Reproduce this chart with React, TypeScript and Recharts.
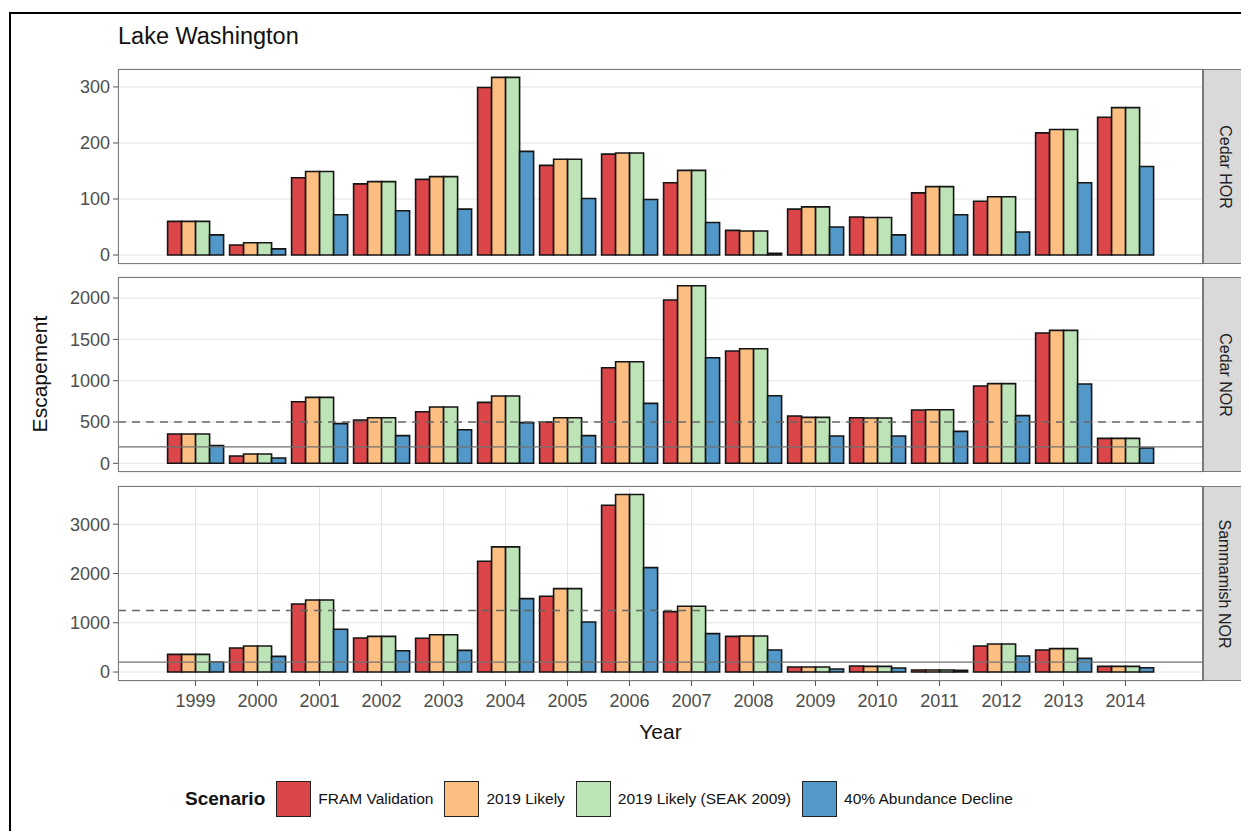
import React from 'react';
import { BarChart, Bar, XAxis, YAxis, CartesianGrid, ReferenceLine } from 'recharts';

const years = ['1999', '2000', '2001', '2002', '2003', '2004', '2005', '2006', '2007', '2008', '2009', '2010', '2011', '2012', '2013', '2014'];

const scenarios = ['FRAM Validation', '2019 Likely', '2019 Likely (SEAK 2009)', '40% Abundance Decline'];
const scenarioColors = ['#DC4649', '#FDBE81', '#BCE4B6', '#5298C8'];

// Cedar HOR
const cedarHorFram = [60, 18, 138, 127, 135, 299, 160, 180, 129, 44, 82, 68, 111, 96, 218, 246];
const cedarHorLikely = [60, 22, 149, 131, 140, 317, 171, 182, 151, 43, 86, 67, 122, 104, 224, 263];
const cedarHorSeak = [60, 22, 149, 131, 140, 317, 171, 182, 151, 43, 86, 67, 122, 104, 224, 263];
const cedarHorDecline = [36, 11, 72, 79, 82, 185, 101, 99, 58, 3, 50, 36, 72, 41, 129, 158];

// Cedar NOR
const cedarNorFram = [355, 89, 746, 524, 625, 738, 500, 1157, 1976, 1359, 573, 552, 645, 935, 1577, 302];
const cedarNorLikely = [355, 113, 798, 552, 681, 815, 552, 1230, 2149, 1387, 556, 548, 649, 964, 1609, 302];
const cedarNorSeak = [355, 113, 798, 552, 681, 815, 552, 1230, 2149, 1387, 556, 548, 649, 964, 1609, 302];
const cedarNorDecline = [214, 65, 480, 335, 407, 492, 335, 726, 1278, 818, 331, 331, 387, 577, 960, 185];

// Sammamish NOR
const sammFram = [359, 487, 1381, 691, 684, 2248, 1537, 3385, 1225, 724, 102, 122, 40, 528, 447, 115];
const sammLikely = [359, 528, 1462, 724, 758, 2539, 1693, 3602, 1334, 731, 102, 115, 40, 569, 474, 115];
const sammSeak = [359, 528, 1462, 724, 758, 2539, 1693, 3602, 1334, 731, 102, 115, 40, 569, 474, 115];
const sammDecline = [203, 318, 867, 433, 440, 1489, 1016, 2119, 779, 447, 61, 81, 34, 325, 278, 88];

const cedarHorTicks = [0, 100, 200, 300];
const cedarHorMinor = [50, 150, 250];
const cedarNorTicks = [0, 500, 1000, 1500, 2000];
const cedarNorMinor = [250, 750, 1250, 1750, 2250];
const sammTicks = [0, 1000, 2000, 3000];
const sammMinor = [500, 1500, 2500, 3500];

const build = (a: number[], b: number[], c: number[], d: number[]) =>
  years.map((year, i) => ({ year, fram: a[i], likely: b[i], seak: c[i], decline: d[i] }));

const keys = ['fram', 'likely', 'seak', 'decline'];
const FONT = '"Liberation Sans", Arial, sans-serif';
const PANEL_LEFT = 118;
const PANEL_RIGHT = 1203;
const PANEL_H = 195;
const X_AXIS_H = 40;
const PAD = 10; // room so edge tick labels are not clipped
const AXIS_TEXT = { fill: '#4d4d4d', fontSize: 18 };

type PanelProps = {
  top: number;
  label: string;
  data: any[];
  domain: [number, number];
  ticks: number[];
  minor: number[];
  dashed?: number;
  solid?: number;
  showX?: boolean;
};

const Panel = ({ top, label, data, domain, ticks, minor, dashed, solid, showX }: PanelProps) => (
  <>
    <div style={{ position: 'absolute', left: 0, top: top - PAD }}>
      <BarChart
        width={PANEL_RIGHT}
        height={PANEL_H + PAD + (showX ? X_AXIS_H : PAD)}
        data={data}
        margin={{ top: PAD, right: 0, left: 0, bottom: showX ? 0 : PAD }}
        barCategoryGap="5%"
        barGap={0}
      >
        <CartesianGrid yAxisId="minor" vertical={false} stroke="#f2f2f2" strokeWidth={0.8} />
        <CartesianGrid stroke="#e4e4e4" strokeWidth={1} />
        <XAxis
          dataKey="year"
          interval={0}
          padding={{ left: 46.5, right: 46.5 }}
          height={showX ? X_AXIS_H : 0}
          axisLine={false}
          tickLine={showX ? { stroke: '#555' } : false}
          tick={showX ? AXIS_TEXT : false}
          tickSize={5}
          tickMargin={8}
        />
        <YAxis
          type="number"
          domain={domain}
          ticks={ticks}
          interval={0}
          allowDataOverflow
          width={PANEL_LEFT}
          axisLine={false}
          tickLine={{ stroke: '#555' }}
          tick={AXIS_TEXT}
          tickSize={5}
          tickMargin={3}
        />
        <YAxis
          yAxisId="minor"
          orientation="right"
          type="number"
          domain={domain}
          ticks={minor}
          interval={0}
          allowDataOverflow
          width={0}
          axisLine={false}
          tickLine={false}
          tick={false}
        />
        {keys.map((k, i) => (
          <Bar key={k} dataKey={k} fill={scenarioColors[i]} stroke="#151515" strokeWidth={1.6} isAnimationActive={false} />
        ))}
        {dashed !== undefined && (
          <ReferenceLine y={dashed} stroke="#666" strokeWidth={1.5} strokeDasharray="8 6" />
        )}
        {solid !== undefined && <ReferenceLine y={solid} stroke="#707070" strokeWidth={1.3} />}
      </BarChart>
    </div>
    <div
      style={{
        position: 'absolute',
        left: PANEL_LEFT,
        top,
        width: PANEL_RIGHT - PANEL_LEFT,
        height: PANEL_H,
        border: '1.5px solid #7a7a7a',
        boxSizing: 'border-box',
        pointerEvents: 'none',
      }}
    />
    <div
      style={{
        position: 'absolute',
        left: PANEL_RIGHT,
        top,
        width: 43,
        height: PANEL_H,
        background: '#d9d9d9',
        border: '1.5px solid #7a7a7a',
        boxSizing: 'border-box',
        display: 'flex',
        alignItems: 'center',
        justifyContent: 'center',
      }}
    >
      <div style={{ transform: 'rotate(90deg)', whiteSpace: 'nowrap', fontSize: 16, color: '#222' }}>{label}</div>
    </div>
  </>
);

const App = () => {
  const horData = build(cedarHorFram, cedarHorLikely, cedarHorSeak, cedarHorDecline);
  const norData = build(cedarNorFram, cedarNorLikely, cedarNorSeak, cedarNorDecline);
  const sammData = build(sammFram, sammLikely, sammSeak, sammDecline);

  return (
    <div style={{ position: 'relative', width: 1249, height: 839, margin: -8, fontFamily: FONT, background: '#fff' }}>
      <div
        style={{
          position: 'absolute',
          left: 9,
          top: 12,
          width: 1239,
          height: 825,
          border: '2px solid #000',
          boxSizing: 'border-box',
        }}
      />
      <div style={{ position: 'absolute', left: 118, top: 23, fontSize: 23.5, color: '#111' }}>Lake Washington</div>

      <Panel top={69} label="Cedar HOR" data={horData} domain={[-16, 332]} ticks={cedarHorTicks} minor={cedarHorMinor} />
      <Panel
        top={277}
        label="Cedar NOR"
        data={norData}
        domain={[-105, 2255]}
        ticks={cedarNorTicks}
        minor={cedarNorMinor}
        dashed={500}
        solid={200}
      />
      <Panel
        top={486}
        label="Sammamish NOR"
        data={sammData}
        domain={[-182, 3775]}
        ticks={sammTicks}
        minor={sammMinor}
        dashed={1250}
        solid={200}
        showX
      />

      <div
        style={{
          position: 'absolute',
          left: 40 - 100,
          top: 375 - 13,
          width: 200,
          textAlign: 'center',
          transform: 'rotate(-90deg)',
          fontSize: 21,
          color: '#111',
        }}
      >
        Escapement
      </div>
      <div
        style={{
          position: 'absolute',
          left: (PANEL_LEFT + PANEL_RIGHT) / 2 - 100,
          top: 720,
          width: 200,
          textAlign: 'center',
          fontSize: 21,
          color: '#111',
        }}
      >
        Year
      </div>

      <div style={{ position: 'absolute', left: 185, top: 781, height: 36, display: 'flex', alignItems: 'center' }}>
        <span style={{ fontWeight: 'bold', fontSize: 19, color: '#111', marginRight: 11 }}>Scenario</span>
        {scenarios.map((s, i) => (
          <span key={s} style={{ display: 'flex', alignItems: 'center', marginRight: 11 }}>
            <span
              style={{
                width: 35,
                height: 36,
                background: scenarioColors[i],
                border: '1.5px solid #222',
                boxSizing: 'border-box',
                marginRight: 7,
              }}
            />
            <span style={{ fontSize: 15.5, color: '#111' }}>{s}</span>
          </span>
        ))}
      </div>
    </div>
  );
};

export default App;
